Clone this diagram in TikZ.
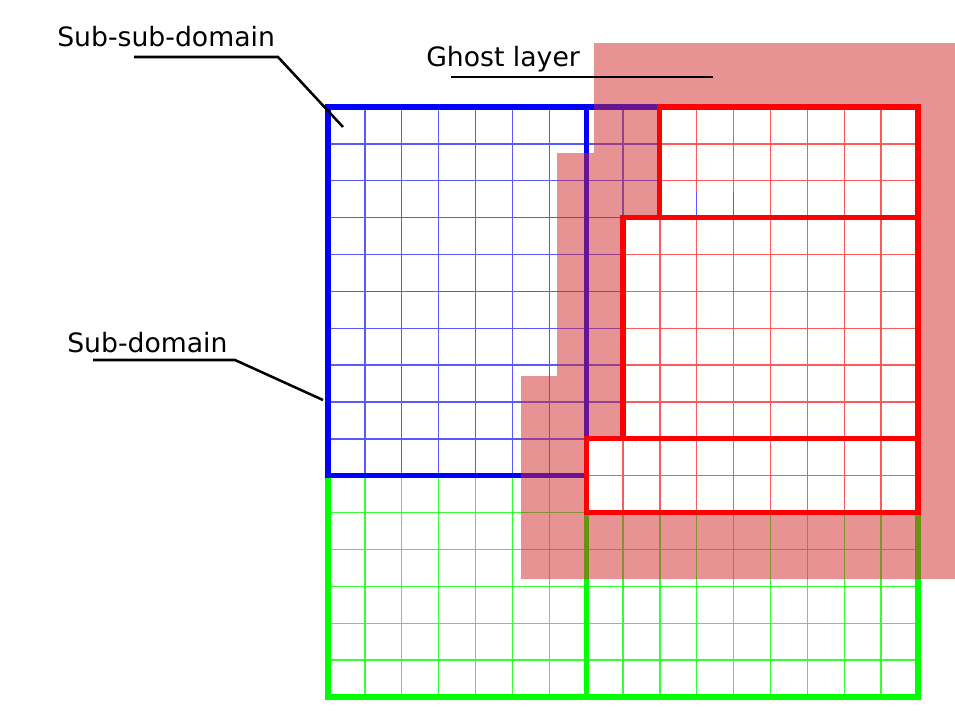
\documentclass[tikz,border=0pt]{standalone}
\usepackage{fontspec}
\setmainfont{DejaVu Sans}
\definecolor{ghostred}{RGB}{209,41,41}
\tikzset{
    thinblue/.style={draw=blue!65, line width=1.1pt},
    thinred/.style={draw=red!65, line width=1.1pt},
    thingreen/.style={draw=green!80, line width=1.1pt},
    thickblue/.style={draw=blue, line width=3.8pt, line join=miter},
    thickred/.style={draw=red, line width=3.8pt, line join=miter},
    thickgreen/.style={draw=green, line width=3.8pt, line join=miter},
    gridcells/.style={shift={(328,107)}, x=27.656pt, y=-27.656pt},
    label/.style={inner sep=0pt, anchor=base west, font=\fontsize{20}{24}\selectfont},
    leader/.style={draw=black, line width=1.9pt}
}
\begin{document}
\begin{tikzpicture}[x=0.75pt, y=-0.75pt]
    \useasboundingbox (0,0) rectangle (955,711);
    \fill[white] (0,0) rectangle (955,711);

    % green and blue sub-domains, in cells
    \begin{scope}[gridcells]
        \foreach \i in {0,...,16} \draw[thingreen] (\i,10) -- (\i,16);
        \foreach \j in {10,...,16} \draw[thingreen] (0,\j) -- (16,\j);
        \foreach \i in {0,...,9} \draw[thinblue] (\i,0) -- (\i,10);
        \foreach \j in {0,...,10} \draw[thinblue] (0,\j) -- (9,\j);
        \draw[thickgreen] (0,10) rectangle (16,16);
        \draw[thickgreen] (7,10) -- (7,16);
        \draw[thickblue] (0,0) rectangle (7,10);
        \draw[thickblue] (7,0) -- (9,0) -- (9,3) -- (8,3) -- (8,9) -- (7,9);
    \end{scope}

    % ghost layer
    \fill[ghostred, fill opacity=0.5] (594,43) -- (955,43) -- (955,579) -- (521,579)
        -- (521,376) -- (557,376) -- (557,153) -- (594,153) -- cycle;

    % red sub-sub-domains
    \begin{scope}[gridcells]
        \fill[white] (9,0) rectangle (16,3);
        \fill[white] (8,3) rectangle (16,9);
        \fill[white] (7,9) rectangle (16,11);
        \foreach \i in {10,...,15} \draw[thinred] (\i,0) -- (\i,3);
        \foreach \j in {1,2} \draw[thinred] (9,\j) -- (16,\j);
        \foreach \i in {9,...,15} \draw[thinred] (\i,3) -- (\i,9);
        \foreach \j in {4,...,8} \draw[thinred] (8,\j) -- (16,\j);
        \foreach \i in {8,...,15} \draw[thinred] (\i,9) -- (\i,11);
        \draw[thinred] (7,10) -- (16,10);
        \foreach \i in {10,11} \draw[thinblue] (\i,2.3) -- (\i,3);
        \draw[thickred] (9,0) rectangle (16,3);
        \draw[thickred] (8,3) rectangle (16,9);
        \draw[thickred] (7,9) rectangle (16,11);
    \end{scope}

    % labels
    \node[label] (subsub) at (57,46)  {Sub-sub-domain};
    \node[label] (ghost)  at (426,66) {Ghost layer};
    \node[label] (sub)    at (67,352) {Sub-domain};

    \coordinate (subsubA) at (134,57);
    \coordinate (subsubB) at (278,57);
    \coordinate (subsubC) at (343,127);
    \coordinate (ghostA)  at (451,77);
    \coordinate (ghostB)  at (713,77);
    \coordinate (subA)    at (93,360);
    \coordinate (subB)    at (235,360);
    \coordinate (subC)    at (323,400);
    \draw[leader] (subsubA) -- (subsubB) -- (subsubC);
    \draw[leader] (ghostA) -- (ghostB);
    \draw[leader] (subA) -- (subB) -- (subC);
\end{tikzpicture}
\end{document}
